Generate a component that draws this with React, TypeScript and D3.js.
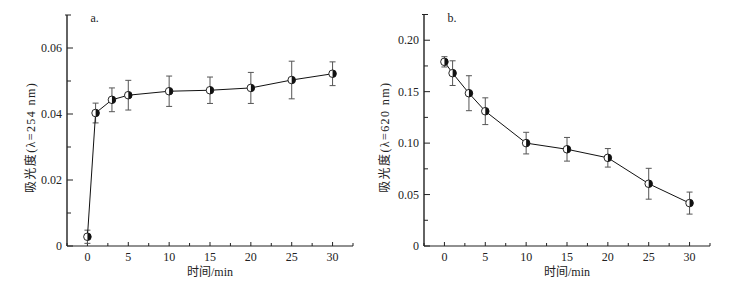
import React from "react";
import * as d3 from "d3";

const times = [0, 1, 3, 5, 10, 15, 20, 25, 30];
const absA = [0.0028, 0.0403, 0.0443, 0.0457, 0.0469, 0.0472, 0.0479, 0.0503, 0.0522];
const errA = [0.002, 0.003, 0.0036, 0.0045, 0.0046, 0.004, 0.0047, 0.0057, 0.0036];
const absB = [0.179, 0.168, 0.1485, 0.131, 0.1, 0.094, 0.0857, 0.0605, 0.0417];
const errB = [0.005, 0.012, 0.017, 0.013, 0.0105, 0.0115, 0.009, 0.015, 0.0107];
const xTicks = [0, 5, 10, 15, 20, 25, 30];
const yTicksA = [0, 0.02, 0.04, 0.06];
const yTicksB = [0, 0.05, 0.1, 0.15, 0.2];
const yLabelA = "吸光度(λ=254 nm)";
const yLabelB = "吸光度(λ=620 nm)";
const xLabel = "时间/min";

const FONT = "'Liberation Serif', 'Times New Roman', 'Noto Sans CJK SC', serif";

type PanelProps = {
  left: number;
  right: number;
  top: number;
  bottom: number;
  yMax: number;
  yStep: number;
  yTicks: number[];
  yFmt: (v: number) => string;
  values: number[];
  errors: number[];
  tag: string;
  yLabel: string;
  labelX: number;
};

function yTicksDraw(ticks: number[], y: d3.ScaleLinear<number, number>, left: number, len: number) {
  return ticks.map((t) => (
    <line key={"yt" + len + t} x1={left} x2={left + len} y1={y(t)} y2={y(t)} stroke="#222" strokeWidth={1} />
  ));
}

function Panel(p: PanelProps) {
  const x = d3.scaleLinear().domain([-2.5, 32.5]).range([p.left, p.right]);
  const y = d3.scaleLinear().domain([0, p.yMax]).range([p.bottom, p.top]);
  const minorX = d3.range(-2.5, 32.6, 2.5).filter((v) => Math.abs(v % 5) > 0.01);
  const minorY = d3.range(p.yStep / 2, p.yMax + 1e-9, p.yStep).filter(
    (v) => Math.abs(v / p.yStep - Math.round(v / p.yStep)) > 0.01
  );
  const line = d3
    .line<number>()
    .x((_, i) => x(times[i]))
    .y((d) => y(d));
  const r = 3.8;
  return (
    <g>
      <line x1={p.left} x2={p.left} y1={p.top} y2={p.bottom} stroke="#222" strokeWidth={1.4} />
      <line x1={p.left} x2={p.right} y1={p.bottom} y2={p.bottom} stroke="#222" strokeWidth={1.2} />
      <line x1={p.left - 2} x2={p.left} y1={p.top} y2={p.top} stroke="#222" strokeWidth={1} />
      {yTicksDraw(p.yTicks, y, p.left, 6)}
      {yTicksDraw(minorY, y, p.left, 4)}
      {xTicks.map((t) => (
        <line key={"xt" + t} x1={x(t)} x2={x(t)} y1={p.bottom} y2={p.bottom - 4} stroke="#222" strokeWidth={1} />
      ))}
      {minorX.map((t) => (
        <line key={"xm" + t} x1={x(t)} x2={x(t)} y1={p.bottom} y2={p.bottom - 3} stroke="#222" strokeWidth={1} />
      ))}
      {p.yTicks.map((t) => (
        <text key={"yl" + t} x={p.left - 5} y={y(t) + 4} textAnchor="end" fontSize={12} fontFamily={FONT} fill="#222">
          {p.yFmt(t)}
        </text>
      ))}
      {xTicks.map((t) => (
        <text key={"xl" + t} x={x(t)} y={p.bottom + 15} textAnchor="middle" fontSize={12} fontFamily={FONT} fill="#222">
          {t}
        </text>
      ))}
      <text x={(p.left + p.right) / 2} y={p.bottom + 30} textAnchor="middle" fontSize={12} fontFamily={FONT} fill="#222">
        {xLabel}
      </text>
      <text
        transform={`translate(${p.labelX},${(p.top + p.bottom) / 2 + 7}) rotate(-90)`}
        textAnchor="middle"
        fontSize={12}
        letterSpacing={1.4}
        fontFamily={FONT}
        fill="#222"
      >
        {p.yLabel}
      </text>
      <text x={x(0) + 3} y={p.top + 7} fontSize={12} fontFamily={FONT} fill="#222">
        {p.tag}
      </text>
      {p.values.map((v, i) => {
        const cx = x(times[i]);
        const y1 = y(v + p.errors[i]);
        const y2 = y(v - p.errors[i]);
        return (
          <g key={"e" + i} stroke="#555" strokeWidth={1}>
            <line x1={cx} x2={cx} y1={y1} y2={y2} />
            <line x1={cx - 3} x2={cx + 3} y1={y1} y2={y1} />
            <line x1={cx - 3} x2={cx + 3} y1={y2} y2={y2} />
          </g>
        );
      })}
      <path d={line(p.values) || ""} fill="none" stroke="#111" strokeWidth={1} />
      {p.values.map((v, i) => {
        const cx = x(times[i]);
        const cy = y(v);
        return (
          <g key={"m" + i}>
            <circle cx={cx} cy={cy} r={r} fill="#fff" stroke="#111" strokeWidth={0.9} />
            <path d={`M${cx},${cy - r} A${r},${r} 0 0 1 ${cx},${cy + r} Z`} fill="#111" />
          </g>
        );
      })}
    </g>
  );
}

export default function App() {
  return (
    <svg width={733} height={289} style={{ position: "absolute", left: 0, top: 0, background: "#fff" }}>
      <rect width={733} height={289} fill="#fff" />
      <Panel
        left={67}
        right={353}
        top={15}
        bottom={246}
        yMax={0.07}
        yStep={0.02}
        yTicks={yTicksA}
        yFmt={(v) => (v === 0 ? "0" : v.toFixed(2))}
        values={absA}
        errors={errA}
        tag="a."
        yLabel={yLabelA}
        labelX={35}
      />
      <Panel
        left={424}
        right={710}
        top={14.5}
        bottom={246}
        yMax={0.225}
        yStep={0.05}
        yTicks={yTicksB}
        yFmt={(v) => (v === 0 ? "0" : v.toFixed(2))}
        values={absB}
        errors={errB}
        tag="b."
        yLabel={yLabelB}
        labelX={389}
      />
    </svg>
  );
}
